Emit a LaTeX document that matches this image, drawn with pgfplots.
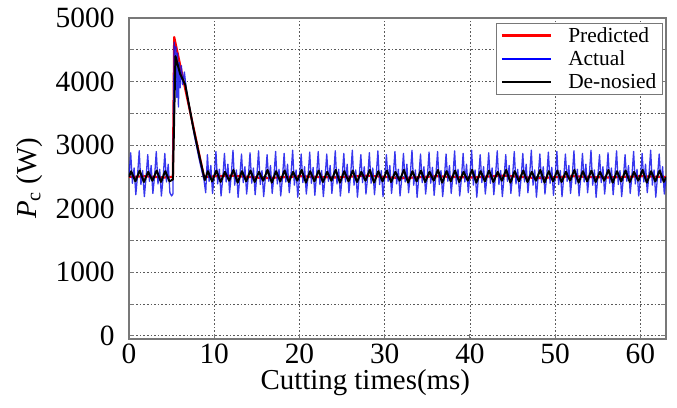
\documentclass[border=0pt]{standalone}
\usepackage{fontspec}
\setmainfont{Liberation Serif}
\usepackage{pgfplots}
\pgfplotsset{compat=1.18}

\definecolor{framegray}{RGB}{120,120,120}
\definecolor{gridgray}{RGB}{90,90,90}
\definecolor{actblue}{RGB}{20,20,235}

\pgfplotsset{
  longline/.style={legend image code/.code={\draw[##1] (0bp,0bp) -- (49bp,0bp);}},
}

\begin{document}
\begin{tikzpicture}
\begin{axis}[
  scale only axis,
  width=537bp, height=321bp,
  xmin=0, xmax=63,
  ymin=-50, ymax=5000,
  xtick={0,10,...,60},
  ytick={0,1000,...,5000},
  minor ytick={500,1500,...,4500},
  grid=both,
  major grid style={gridgray, line width=0.9bp, dash pattern=on 1.6bp off 2bp},
  minor grid style={gridgray, line width=0.9bp, dash pattern=on 1.6bp off 2bp},
  axis line style={framegray, line width=1.2bp},
  tick style={framegray, line width=1bp},
  major tick length=5bp, minor tick length=5bp,
  tick align=inside,
  xtick pos=bottom,
  /pgf/number format/assume math mode=true,
  /pgf/number format/set thousands separator={},
  tick label style={font=\fontsize{29.5}{31}\selectfont},
  yticklabel style={xshift=-11bp},
  xticklabel style={yshift=-1bp},
  xlabel={Cutting times(ms)},
  ylabel={\textit{P}\textsubscript{c} (W)},
  label style={font=\fontsize{29}{31}\selectfont},
  xlabel style={at={(axis description cs:0.44,-0.137)}, anchor=center},
  ylabel style={at={(axis description cs:-0.185,0.5)}, anchor=center},
  legend cell align=left,
  legend style={at={(0.994,0.985)}, anchor=north east, draw=framegray,
    line width=1bp, font=\fontsize{21.5}{22}\selectfont,
    inner xsep=4bp, inner ysep=2bp, row sep=3bp,
    /tikz/every odd column/.append style={column sep=14bp}},
  every axis plot/.append style={line join=round},
]
\addlegendimage{red, line width=2.6bp, longline}
\addlegendimage{blue, line width=2.6bp, longline}
\addlegendimage{black, line width=2.6bp, longline}
% Predicted
\addplot[red, line width=2.2bp, forget plot] coordinates {
  (0,2500) (2,2510) (4,2490) (5.15,2500) (5.3,4700) (8.8,2500)
  (12,2520) (16,2480) (20,2510) (24,2490) (28,2520) (32,2480)
  (36,2510) (40,2490) (44,2520) (48,2480) (52,2510) (56,2490) (60,2510) (63,2500)
};
% Actual
\addplot[actblue, opacity=0.85, line width=1.3bp, forget plot] coordinates {
  (0,2500)(0.2,2880)(0.4,2400)(0.6,2640)(0.8,2220)
  (1,2520)(1.2,2910)(1.4,2380)(1.6,2600)(1.8,2190)
  (2,2490)(2.2,2850)(2.4,2430)(2.6,2680)(2.8,2240)
  (3,2510)(3.2,2900)(3.4,2390)(3.6,2620)(3.8,2200)
  (4,2480)(4.2,2870)(4.4,2420)(4.6,2700)(4.8,2250)
  (5,2200)(5.15,2230)(5.3,4620)(5.4,3950)(5.5,4550)(5.6,3750)(5.7,4450)
  (5.8,3600)(5.9,4300)(6.0,3900)(6.15,4250)(6.3,3950)(6.5,4150)(6.7,3900)
  (7.0,3650)(7.3,3450)(7.6,3200)(7.9,3000)(8.2,2800)(8.5,2620)(8.8,2450)(9,2250)
  (9.2,2850)(9.4,2430)(9.6,2680)(9.8,2240)
  (10,2510)(10.2,2900)(10.4,2390)(10.6,2620)(10.8,2200)
  (11,2480)(11.2,2870)(11.4,2420)(11.6,2700)(11.8,2250)
  (12,2530)(12.2,2920)(12.4,2370)(12.6,2610)(12.8,2180)
  (13,2500)(13.2,2860)(13.4,2410)(13.6,2660)(13.8,2230)
  (14,2500)(14.2,2880)(14.4,2400)(14.6,2640)(14.8,2220)
  (15,2520)(15.2,2910)(15.4,2380)(15.6,2600)(15.8,2190)
  (16,2490)(16.2,2850)(16.4,2430)(16.6,2680)(16.8,2240)
  (17,2510)(17.2,2900)(17.4,2390)(17.6,2620)(17.8,2200)
  (18,2480)(18.2,2870)(18.4,2420)(18.6,2700)(18.8,2250)
  (19,2530)(19.2,2920)(19.4,2370)(19.6,2610)(19.8,2180)
  (20,2500)(20.2,2860)(20.4,2410)(20.6,2660)(20.8,2230)
  (21,2500)(21.2,2890)(21.4,2400)(21.6,2650)(21.8,2210)
  (22,2520)(22.2,2900)(22.4,2380)(22.6,2600)(22.8,2190)
  (23,2490)(23.2,2860)(23.4,2430)(23.6,2680)(23.8,2240)
  (24,2510)(24.2,2910)(24.4,2390)(24.6,2620)(24.8,2200)
  (25,2480)(25.2,2870)(25.4,2420)(25.6,2700)(25.8,2250)
  (26,2530)(26.2,2920)(26.4,2370)(26.6,2610)(26.8,2180)
  (27,2500)(27.2,2850)(27.4,2410)(27.6,2660)(27.8,2230)
  (28,2500)(28.2,2880)(28.4,2400)(28.6,2640)(28.8,2220)
  (29,2520)(29.2,2910)(29.4,2380)(29.6,2600)(29.8,2190)
  (30,2490)(30.2,2850)(30.4,2430)(30.6,2680)(30.8,2240)
  (31,2510)(31.2,2900)(31.4,2390)(31.6,2620)(31.8,2200)
  (32,2480)(32.2,2870)(32.4,2420)(32.6,2700)(32.8,2250)
  (33,2530)(33.2,2920)(33.4,2370)(33.6,2610)(33.8,2180)
  (34,2500)(34.2,2860)(34.4,2410)(34.6,2660)(34.8,2230)
  (35,2500)(35.2,2890)(35.4,2400)(35.6,2650)(35.8,2210)
  (36,2520)(36.2,2900)(36.4,2380)(36.6,2600)(36.8,2190)
  (37,2490)(37.2,2860)(37.4,2430)(37.6,2680)(37.8,2240)
  (38,2510)(38.2,2910)(38.4,2390)(38.6,2620)(38.8,2200)
  (39,2480)(39.2,2870)(39.4,2420)(39.6,2700)(39.8,2250)
  (40,2530)(40.2,2920)(40.4,2370)(40.6,2610)(40.8,2180)
  (41,2500)(41.2,2850)(41.4,2410)(41.6,2660)(41.8,2230)
  (42,2500)(42.2,2880)(42.4,2400)(42.6,2640)(42.8,2220)
  (43,2520)(43.2,2910)(43.4,2380)(43.6,2600)(43.8,2190)
  (44,2490)(44.2,2850)(44.4,2430)(44.6,2680)(44.8,2240)
  (45,2510)(45.2,2900)(45.4,2390)(45.6,2620)(45.8,2200)
  (46,2480)(46.2,2870)(46.4,2420)(46.6,2700)(46.8,2250)
  (47,2530)(47.2,2920)(47.4,2370)(47.6,2610)(47.8,2180)
  (48,2500)(48.2,2860)(48.4,2410)(48.6,2660)(48.8,2230)
  (49,2500)(49.2,2890)(49.4,2400)(49.6,2650)(49.8,2210)
  (50,2520)(50.2,2900)(50.4,2380)(50.6,2600)(50.8,2190)
  (51,2490)(51.2,2860)(51.4,2430)(51.6,2680)(51.8,2240)
  (52,2510)(52.2,2910)(52.4,2390)(52.6,2620)(52.8,2200)
  (53,2480)(53.2,2870)(53.4,2420)(53.6,2700)(53.8,2250)
  (54,2530)(54.2,2920)(54.4,2370)(54.6,2610)(54.8,2180)
  (55,2500)(55.2,2850)(55.4,2410)(55.6,2660)(55.8,2230)
  (56,2500)(56.2,2880)(56.4,2400)(56.6,2640)(56.8,2220)
  (57,2520)(57.2,2910)(57.4,2380)(57.6,2600)(57.8,2190)
  (58,2490)(58.2,2850)(58.4,2430)(58.6,2680)(58.8,2240)
  (59,2510)(59.2,2900)(59.4,2390)(59.6,2620)(59.8,2200)
  (60,2480)(60.2,2870)(60.4,2420)(60.6,2700)(60.8,2250)
  (61,2530)(61.2,2920)(61.4,2370)(61.6,2610)(61.8,2180)
  (62,2500)(62.2,2860)(62.4,2410)(62.6,2660)(62.8,2230)
  (63,2500)
};
% De-noised
\addplot[black, line width=2bp, forget plot] coordinates {
  (0,2500)(0.25,2590)(0.75,2430)(1.25,2600)(1.75,2420)(2.25,2580)(2.75,2440)
  (3.25,2600)(3.75,2420)(4.25,2590)(4.75,2430)(5.15,2460)
  (5.45,4400)(6.0,4120)(6.6,3950)(7.5,3300)(8.3,2800)(8.9,2450)
  (9.25,2590)(9.75,2430)(10.25,2600)(10.75,2420)(11.25,2580)(11.75,2440)
  (12.25,2610)(12.75,2410)(13.25,2590)(13.75,2430)(14.25,2600)(14.75,2420)
  (15.25,2580)(15.75,2440)(16.25,2610)(16.75,2410)(17.25,2590)(17.75,2430)
  (18.25,2600)(18.75,2420)(19.25,2580)(19.75,2440)(20.25,2610)(20.75,2410)
  (21.25,2590)(21.75,2430)(22.25,2600)(22.75,2420)(23.25,2580)(23.75,2440)
  (24.25,2610)(24.75,2410)(25.25,2590)(25.75,2430)(26.25,2600)(26.75,2420)
  (27.25,2580)(27.75,2440)(28.25,2610)(28.75,2410)(29.25,2590)(29.75,2430)
  (30.25,2600)(30.75,2420)(31.25,2580)(31.75,2440)(32.25,2610)(32.75,2410)
  (33.25,2590)(33.75,2430)(34.25,2600)(34.75,2420)(35.25,2580)(35.75,2440)
  (36.25,2610)(36.75,2410)(37.25,2590)(37.75,2430)(38.25,2600)(38.75,2420)
  (39.25,2580)(39.75,2440)(40.25,2610)(40.75,2410)(41.25,2590)(41.75,2430)
  (42.25,2600)(42.75,2420)(43.25,2580)(43.75,2440)(44.25,2610)(44.75,2410)
  (45.25,2590)(45.75,2430)(46.25,2600)(46.75,2420)(47.25,2580)(47.75,2440)
  (48.25,2610)(48.75,2410)(49.25,2590)(49.75,2430)(50.25,2600)(50.75,2420)
  (51.25,2580)(51.75,2440)(52.25,2610)(52.75,2410)(53.25,2590)(53.75,2430)
  (54.25,2600)(54.75,2420)(55.25,2580)(55.75,2440)(56.25,2610)(56.75,2410)
  (57.25,2590)(57.75,2430)(58.25,2600)(58.75,2420)(59.25,2580)(59.75,2440)
  (60.25,2610)(60.75,2410)(61.25,2590)(61.75,2430)(62.25,2600)(62.75,2420)
  (63,2500)
};
\legend{Predicted, Actual, De-nosied}
\end{axis}
\pgfresetboundingbox
\path (current axis.south west) ++(-129bp,-69bp) rectangle ++(677bp,408bp);
\end{tikzpicture}
\end{document}
